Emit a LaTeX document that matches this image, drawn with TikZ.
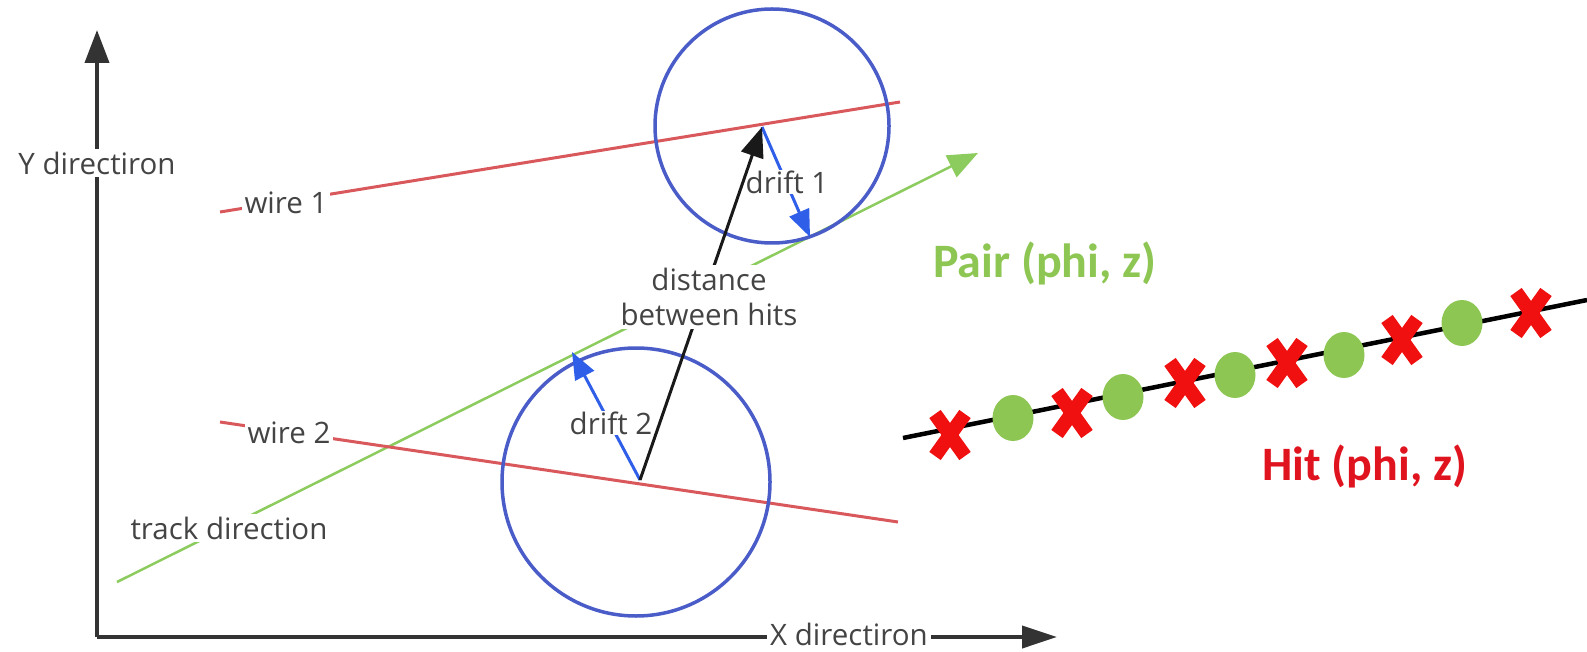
\documentclass[tikz,border=0pt]{standalone}
\usepackage{fontspec}
\setmainfont{Open Sans}
\newfontfamily\calib{Carlito}
\usetikzlibrary{arrows.meta,shapes.geometric}
\definecolor{axisgray}{HTML}{333333}
\definecolor{txtgray}{HTML}{444444}
\definecolor{wirered}{HTML}{D9585C}
\definecolor{circblue}{HTML}{4A5CC8}
\definecolor{driftblue}{HTML}{2F5FE8}
\definecolor{trackgreen}{HTML}{8CCB5E}
\definecolor{hitred}{HTML}{F01010}
\definecolor{pairgreen}{HTML}{8DC653}
\definecolor{hitlabel}{HTML}{E0141E}
\tikzset{
  axisline/.style={draw=axisgray,line width=4pt},
  wireline/.style={draw=wirered,line width=3pt},
  trackline/.style={draw=trackgreen,line width=2.5pt},
  driftarrow/.style={draw=driftblue,line width=3pt,-{Triangle[length=27pt,width=21pt]}},
  distarrow/.style={draw=black!90,line width=3pt,-{Triangle[length=30pt,width=23pt]}},
  driftcirc/.style={circle,draw=circblue,line width=3.5pt,inner sep=0pt},
  lbl/.style={text=txtgray,font=\fontsize{29.5}{35}\selectfont,fill=white,inner sep=3pt},
  biglbl/.style={font=\calib\bfseries\fontsize{48}{52}\selectfont,inner sep=0pt,anchor=base west},
  pairdot/.style={ellipse,fill=pairgreen,minimum width=41pt,minimum height=46pt,inner sep=0pt},
  hitx/.pic={\draw[hitred,line width=14pt] (-15,-21) -- (15,21) (-15,21) -- (15,-21);},
}
\begin{document}
\begin{tikzpicture}[x=1pt,y=-1pt]
\useasboundingbox (0,0) rectangle (1587,652);
% axes
\coordinate (O) at (97,637);
\coordinate (Ytip) at (97,30);
\coordinate (Xtip) at (1057,637);
\draw[axisline,-{Triangle[length=33pt,width=24pt]}] (O) -- (Ytip);
\draw[axisline,-{Triangle[length=35pt,width=22pt]}] (O) -- (Xtip);
\node[lbl] (ylab) at (97,163) {Y directiron};
\node[lbl] (xlab) at (849,634) {X directiron};
% track
\coordinate (t0) at (117,582);
\coordinate (t1) at (978,153);
\draw[trackline,-{Triangle[length=30pt,width=24pt]}] (t0) -- (t1);
% wires
\coordinate (w1a) at (220,212);
\coordinate (w1b) at (900,102);
\coordinate (w2a) at (220,422);
\coordinate (w2b) at (898,522);
\draw[wireline] (w1a) -- (w1b);
\draw[wireline] (w2a) -- (w2b);
% drift circles
\node[driftcirc,minimum size=234pt] (c1) at (772,126) {};
\node[driftcirc,minimum size=268pt] (c2) at (636,482) {};
% hit points and drift arrows
\coordinate (h1) at (762,127);
\coordinate (h2) at (640,480);
\coordinate (d1) at (810,237);
\coordinate (d2) at (572,352);
\draw[driftarrow] (h1) -- (d1);
\draw[driftarrow] (h2) -- (d2);
\node[lbl,inner sep=1pt] (dl1) at (787,182) {drift 1};
\node[lbl,inner sep=1pt] (dl2) at (611,423) {drift 2};
\draw[distarrow] (h2) -- (h1);
\node[lbl,align=center] (dbh) at (709,297) {distance\\between hits};
% labels
\node[lbl] (wl1) at (286,203) {wire 1};
\node[lbl] (wl2) at (289,433) {wire 2};
\node[lbl] (tl) at (229,528) {track direction};
% right part
\coordinate (la) at (903,438);
\coordinate (lb) at (1587,300);
\draw[black,line width=4.5pt] (la) -- (lb);
\node[pairdot] (p1) at (1013,418) {};
\node[pairdot] (p2) at (1123,397) {};
\node[pairdot] (p3) at (1235,375) {};
\node[pairdot] (p4) at (1344,355) {};
\node[pairdot] (p5) at (1462,323) {};
\pic at (950,435) {hitx};
\pic at (1072,413) {hitx};
\pic at (1185,383) {hitx};
\pic at (1287,363) {hitx};
\pic at (1402,340) {hitx};
\pic at (1531,313) {hitx};
\node[biglbl,text=pairgreen] (pair) at (933,278) {Pair (phi, z)};
\node[biglbl,text=hitlabel] (hit) at (1262,480) {Hit (phi, z)};
\end{tikzpicture}
\end{document}
